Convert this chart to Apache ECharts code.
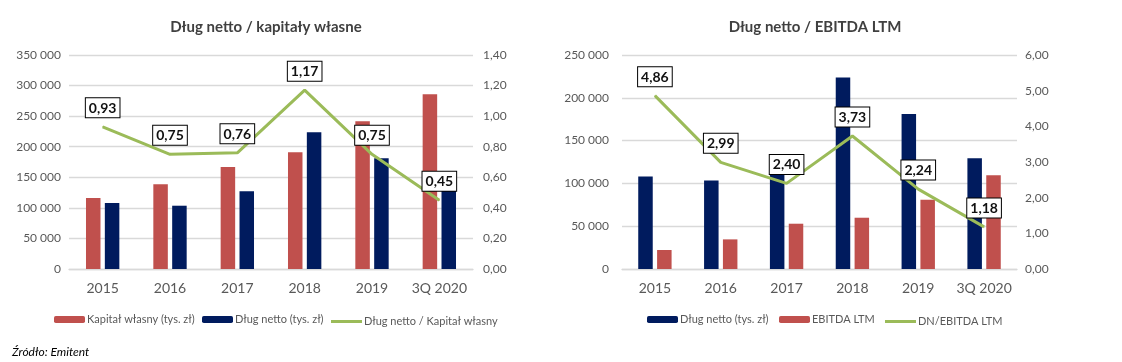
<!DOCTYPE html>
<html>
<head>
<meta charset="utf-8">
<script src="https://cdn.jsdelivr.net/npm/echarts@6/dist/echarts.min.js"></script>
<style>
html,body{margin:0;padding:0;background:#fff;}
#c{width:1122px;height:362px;}
</style>
</head>
<body>
<div id="c"></div>
<script>
const years = ['2015', '2016', '2017', '2018', '2019', '3Q 2020'];
const kapitalWlasny = [116000, 138500, 167000, 191000, 241500, 286000];
const dlugNetto = [108000, 103500, 127000, 223600, 181000, 129300];
const ebitdaLtm = [22200, 34600, 52900, 59900, 80800, 109600];
const dnKapital = [0.93, 0.75, 0.76, 1.17, 0.75, 0.45];
const dnEbitda = [4.86, 2.99, 2.40, 3.73, 2.24, 1.18];

const RED = '#C0504D', NAVY = '#001B5E', GREEN = '#9BBB59';
const FONT = 'Lato, "Open Sans", sans-serif';
const GRAY = '#595959';

function thousands(v){ return String(Math.round(v)).replace(/\B(?=(\d{3})+(?!\d))/g, ' '); }
function dec2(v){ return v.toFixed(2).replace('.', ','); }

const chart = echarts.init(document.getElementById('c'));

function valAxis(grid, max, interval, fmt, pos, split, margin){
  return {
    type: 'value', gridIndex: grid, min: 0, max: max, interval: interval, position: pos,
    axisLine: {show: false}, axisTick: {show: false},
    splitLine: {show: split, lineStyle: {color: '#D9D9D9', width: 1.3}},
    axisLabel: {color: GRAY, fontFamily: FONT, fontSize: 12, margin: margin, formatter: fmt}
  };
}
function catAxis(grid){
  return {
    type: 'category', gridIndex: grid, data: years,
    axisLine: {show: true, lineStyle: {color: '#D9D9D9', width: 1.3}},
    axisTick: {show: false},
    axisLabel: {color: GRAY, fontFamily: FONT, fontSize: 14, margin: 12, interval: 0}
  };
}
const lbl = {
  show: true, position: 'top', distance: 9,
  backgroundColor: '#fff', borderColor: '#000', borderWidth: 1,
  padding: [3, 3, 2, 3], color: '#111', fontFamily: FONT, fontSize: 14, fontWeight: 'bold',
  formatter: p => dec2(p.value)
};
function leg(name, left, isLine){
  const l = {
    data: [name], left: left, top: 309, itemWidth: 31, itemHeight: 7, itemGap: 0,
    selectedMode: false,
    textStyle: {color: GRAY, fontFamily: FONT, fontSize: 11, padding: [0, 0, 0, -3]}
  };
  if (isLine) {
    l.data = [{name: name, icon: 'rect', itemStyle: {color: GREEN}}];
    l.itemHeight = 3;
    l.top = 311;
  }
  return l;
}

chart.setOption({
  animation: false,
  title: [
    {text: 'Dług netto / kapitały własne', left: 261, top: 15, textAlign: 'center',
     textStyle: {color: '#404040', fontFamily: FONT, fontSize: 15, fontWeight: 'bold'}},
    {text: 'Dług netto / EBITDA LTM', left: 810, top: 15, textAlign: 'center',
     textStyle: {color: '#404040', fontFamily: FONT, fontSize: 15, fontWeight: 'bold'}}
  ],
  grid: [
    {left: 69, width: 404, top: 55, height: 214},
    {left: 622, width: 395, top: 55, height: 214}
  ],
  xAxis: [catAxis(0), catAxis(1)],
  yAxis: [
    valAxis(0, 350000, 50000, thousands, 'left', true, 8),
    valAxis(0, 1.4, 0.2, dec2, 'right', false, 10),
    valAxis(1, 250000, 50000, thousands, 'left', true, 13),
    valAxis(1, 6, 1, dec2, 'right', false, 8)
  ],
  legend: [
    leg('Kapitał własny (tys. zł)', 49),
    leg('Dług netto (tys. zł)', 197),
    leg('Dług netto / Kapitał własny', 326, true),
    leg('Dług netto (tys. zł) ', 642),
    leg('EBITDA LTM', 774),
    leg('DN/EBITDA LTM', 880, true)
  ],
  graphic: [
    {type: 'text', left: 12, top: 346,
     style: {text: 'Źródło: Emitent', fill: '#000', font: 'italic 12px ' + FONT}}
  ],
  series: [
    {name: 'Kapitał własny (tys. zł)', type: 'bar', xAxisIndex: 0, yAxisIndex: 0,
     data: kapitalWlasny, barWidth: 14.5, barGap: '30%', itemStyle: {color: RED}, z: 2},
    {name: 'Dług netto (tys. zł)', type: 'bar', xAxisIndex: 0, yAxisIndex: 0,
     data: dlugNetto, barWidth: 14.5, barGap: '30%', itemStyle: {color: NAVY}, z: 2},
    {name: 'Dług netto / Kapitał własny', type: 'line', xAxisIndex: 0, yAxisIndex: 1,
     data: dnKapital, symbol: 'circle', symbolSize: 1, showSymbol: true,
     lineStyle: {color: GREEN, width: 3}, itemStyle: {color: GREEN},
     label: lbl, z: 5},
    {name: 'Dług netto (tys. zł) ', type: 'bar', xAxisIndex: 1, yAxisIndex: 2,
     data: dlugNetto, barWidth: 14.5, barGap: '30%', itemStyle: {color: NAVY}, z: 2},
    {name: 'EBITDA LTM', type: 'bar', xAxisIndex: 1, yAxisIndex: 2,
     data: ebitdaLtm, barWidth: 14.5, barGap: '30%', itemStyle: {color: RED}, z: 2},
    {name: 'DN/EBITDA LTM', type: 'line', xAxisIndex: 1, yAxisIndex: 3,
     data: dnEbitda, symbol: 'circle', symbolSize: 1, showSymbol: true,
     lineStyle: {color: GREEN, width: 3}, itemStyle: {color: GREEN},
     label: lbl, z: 5}
  ]
});
</script>
</body>
</html>
